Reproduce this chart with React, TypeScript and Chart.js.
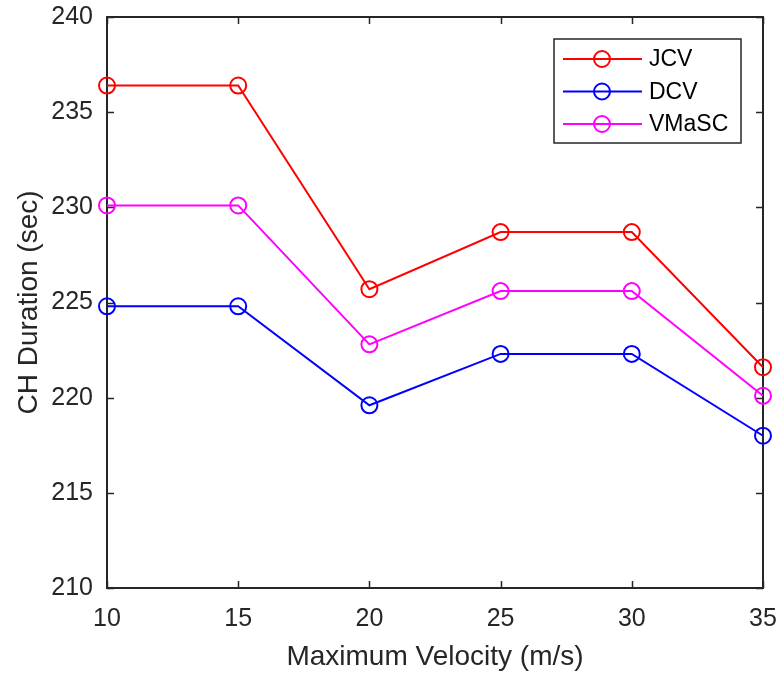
import React, { useEffect, useRef } from "react";
import { Chart, registerables } from "chart.js";

Chart.register(...registerables);

const velocities = [10, 15, 20, 25, 30, 35];
const jcv = [236.4, 236.4, 225.7, 228.7, 228.7, 221.6];
const dcv = [224.8, 224.8, 219.6, 222.3, 222.3, 218.0];
const vmasc = [230.1, 230.1, 222.8, 225.6, 225.6, 220.1];
const seriesLabels = ["JCV", "DCV", "VMaSC"];
const seriesColors = ["#ff0000", "#0000ff", "#ff00ff"];
const xTitle = "Maximum Velocity (m/s)";
const yTitle = "CH Duration (sec)";

const FONT = "Arial, 'Liberation Sans', Helvetica, sans-serif";
const AXIS_COLOR = "#262626";

const boxPlugin = {
  id: "matlabBox",
  beforeDatasetsDraw(chart: any) {
    const { ctx, chartArea, scales } = chart;
    const { left, right, top, bottom } = chartArea;
    ctx.save();
    ctx.strokeStyle = AXIS_COLOR;
    ctx.lineWidth = 2;
    ctx.strokeRect(left, top, right - left, bottom - top);
    const tl = 7;
    ctx.lineWidth = 1.5;
    ctx.beginPath();
    scales.x.ticks.forEach((t: any) => {
      const px = Math.round(scales.x.getPixelForValue(t.value)) + 0.5;
      ctx.moveTo(px, bottom);
      ctx.lineTo(px, bottom - tl);
      ctx.moveTo(px, top);
      ctx.lineTo(px, top + tl);
    });
    scales.y.ticks.forEach((t: any) => {
      const py = Math.round(scales.y.getPixelForValue(t.value)) + 0.5;
      ctx.moveTo(left, py);
      ctx.lineTo(left + tl, py);
      ctx.moveTo(right, py);
      ctx.lineTo(right - tl, py);
    });
    ctx.stroke();
    ctx.restore();
  },
};

const legendPlugin = {
  id: "matlabLegend",
  afterDatasetsDraw(chart: any) {
    const { ctx } = chart;
    const bx = 554, by = 39, bw = 187, bh = 104;
    ctx.save();
    ctx.fillStyle = "#ffffff";
    ctx.fillRect(bx, by, bw, bh);
    ctx.strokeStyle = AXIS_COLOR;
    ctx.lineWidth = 1.5;
    ctx.strokeRect(bx, by, bw, bh);
    const rows = [59, 91.5, 124];
    chart.data.datasets.forEach((ds: any, i: number) => {
      const y = rows[i];
      ctx.strokeStyle = ds.borderColor;
      ctx.lineWidth = 2;
      ctx.beginPath();
      ctx.moveTo(563, y);
      ctx.lineTo(642, y);
      ctx.stroke();
      ctx.beginPath();
      ctx.arc(602, y, 8, 0, Math.PI * 2);
      ctx.stroke();
      ctx.fillStyle = "#000000";
      ctx.font = `23px ${FONT}`;
      ctx.textAlign = "left";
      ctx.textBaseline = "middle";
      ctx.fillText(ds.label, 649, y + 1);
    });
    ctx.restore();
  },
};

export default function App() {
  const ref = useRef<HTMLCanvasElement | null>(null);

  useEffect(() => {
    if (!ref.current) return;
    const series = [jcv, dcv, vmasc];
    const chart = new Chart(ref.current, {
      type: "line",
      data: {
        datasets: series.map((vals, i) => ({
          label: seriesLabels[i],
          data: velocities.map((v, j) => ({ x: v, y: vals[j] })),
          borderColor: seriesColors[i],
          backgroundColor: "rgba(0,0,0,0)",
          pointBorderColor: seriesColors[i],
          pointBackgroundColor: "rgba(0,0,0,0)",
          borderWidth: 2,
          pointRadius: 8,
          pointBorderWidth: 2,
          pointHoverRadius: 8,
          tension: 0,
          clip: false as any,
        })),
      },
      options: {
        animation: false,
        responsive: false,
        devicePixelRatio: 1,
        layout: { padding: { left: 0, right: 15, top: 17, bottom: 0 } },
        plugins: {
          legend: { display: false },
          tooltip: { enabled: false },
        },
        scales: {
          x: {
            type: "linear",
            min: 10,
            max: 35,
            ticks: {
              stepSize: 5,
              color: AXIS_COLOR,
              font: { family: FONT, size: 25 },
              padding: 16,
              maxRotation: 0,
            },
            grid: { display: false, drawTicks: false },
            border: { display: false },
            title: {
              display: true,
              text: xTitle,
              color: AXIS_COLOR,
              font: { family: FONT, size: 28 },
              padding: { top: 0, bottom: 1 },
            },
            afterFit: (s: any) => {
              s.height = 87;
              s.paddingLeft = 0;
              s.paddingRight = 0;
            },
          },
          y: {
            type: "linear",
            min: 210,
            max: 240,
            ticks: {
              stepSize: 5,
              color: AXIS_COLOR,
              font: { family: FONT, size: 25 },
              padding: 14,
            },
            grid: { display: false, drawTicks: false },
            border: { display: false },
            title: {
              display: true,
              text: yTitle,
              color: AXIS_COLOR,
              font: { family: FONT, size: 28 },
              padding: { top: 12, bottom: 0 },
            },
            afterFit: (s: any) => {
              s.width = 107;
              s.paddingTop = 0;
              s.paddingBottom = 0;
            },
          },
        },
      },
      plugins: [boxPlugin, legendPlugin],
    });
    return () => chart.destroy();
  }, []);

  return (
    <div style={{ position: "fixed", left: 0, top: 0, width: 778, height: 675, background: "#fff" }}>
      <canvas ref={ref} width={778} height={675} />
    </div>
  );
}
